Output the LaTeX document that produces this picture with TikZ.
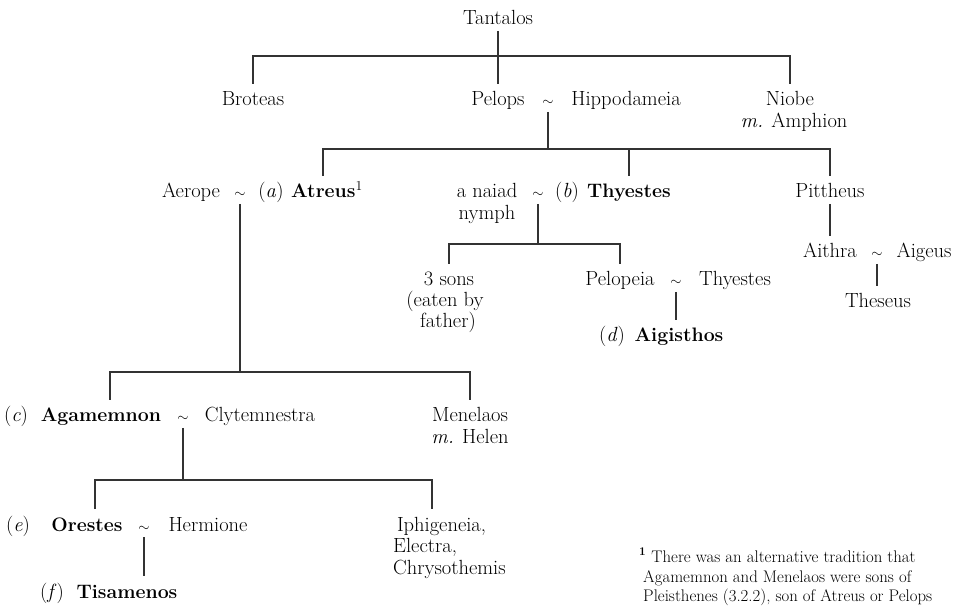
\documentclass[tikz,border=0pt]{standalone}
\usepackage{fontspec}
\newcommand{\couple}{{\fontsize{14.5}{14.5}\selectfont$\sim$}}
\begin{document}
\begin{tikzpicture}[x=1pt,y=-1pt,
  every node/.style={inner sep=0pt, text=black},
  person/.style={anchor=base, text height=18pt, text depth=2pt, outer sep=4pt,
    font=\fontsize{20.5}{24}\selectfont},
  heir/.style={person, font=\fontsize{19.5}{24}\selectfont\bfseries},
  extra/.style={anchor=base, font=\fontsize{20.5}{24}\selectfont},
  leftline/.style={anchor=base west, font=\fontsize{20.5}{24}\selectfont},
  note/.style={anchor=base west, font=\fontsize{16.8}{19}\selectfont},
  link/.style={line width=1.3pt, draw=black!80}]
\useasboundingbox (0,0) rectangle (956,609);

% generation 0 and 1
\node[person] (tant) at (498,25) {Tantalos};
\node[person] (brot) at (253,106) {Broteas};
\node[person] (pelops) at (498,106) {Pelops};
\node[person] (tA) at (548,106) {\couple};
\node[person] (hipp) at (626,106) {Hippodameia};
\node[person] (niobe) at (790,106) {Niobe};
\node[extra] (amph) at (794,128) {\textit{m.} Amphion};

% children of Pelops and Hippodameia
\node[person] (aerope) at (191,198) {Aerope};
\node[person] (tB) at (240,198) {\couple};
\node[person] (la) at (271,198) {(\textit{a})};
\node[heir] (atreus) at (327,198) {Atreus\textsuperscript{\mdseries 1}};
\node[person] (naiad) at (487,198) {a naiad};
\node[extra] (nymph) at (487,220) {nymph};
\node[person] (tC) at (538,198) {\couple};
\node[person] (lb) at (567,198) {(\textit{b})};
\node[heir] (thy) at (629,198) {Thyestes};
\node[person] (pitt) at (830,198) {Pittheus};

% Pittheus' line
\node[person] (aithra) at (830,258) {Aithra};
\node[person] (tD) at (877,258) {\couple};
\node[person] (aigeus) at (924,258) {Aigeus};
\node[person] (theseus) at (878,308) {Theseus};

% Thyestes' line
\node[person] (sons) at (449,286) {3 sons};
\node[extra] (eaten) at (445,307) {(eaten by};
\node[extra] (father) at (448,328) {father)};
\node[person] (pelopeia) at (620,286) {Pelopeia};
\node[person] (tE) at (676,286) {\couple};
\node[person] (thy2) at (735,286) {Thyestes};
\node[person] (ld) at (612,342) {(\textit{d})};
\node[heir] (aig) at (679,342) {Aigisthos};

% Atreus' line
\node[person] (lc) at (16,422) {(\textit{c})};
\node[heir] (agam) at (101,422) {Agamemnon};
\node[person] (tF) at (183,422) {\couple};
\node[person] (clyt) at (260,422) {Clytemnestra};
\node[person] (men) at (470,422) {Menelaos};
\node[extra] (helen) at (470,443) {\textit{m.} Helen};

\node[person] (le) at (18,531) {(\textit{e})};
\node[heir] (orestes) at (87,531) {Orestes};
\node[person] (tG) at (144,531) {\couple};
\node[person] (herm) at (208,531) {Hermione};
\node[leftline, text height=18pt, outer sep=4pt] (iph) at (393,531) {Iphigeneia,};
\node[leftline] (elec) at (393,552) {Electra,};
\node[leftline] (chrys) at (393,574) {Chrysothemis};

\node[person] (lf) at (52,598) {(\textit{f})};
\node[heir] (tis) at (127,598) {Tisamenos};

% footnote
\node[note] (fn1) at (639,562) {\textbf{\textsuperscript{1}} There was an alternative tradition that};
\node[note] (fn2) at (643,582) {Agamemnon and Menelaos were sons of};
\node[note] (fn3) at (643,601) {Pleisthenes (3.2.2), son of Atreus or Pelops};

% junctions of the family bars
\coordinate (j0) at (498,56);
\coordinate (j1) at (548,149);
\coordinate (j2) at (538,244);
\coordinate (j3) at (240,372);
\coordinate (j4) at (183,480);

% connectors
\draw[link] (tant) -- (pelops);
\draw[link] (brot) |- (j0) -| (niobe);
\draw[link] (tA) -- (j1);
\draw[link] ([xshift=-4pt]atreus.north) |- (j1) -| (pitt);
\draw[link] (thy) -- (thy |- j1);
\draw[link] (tC) -- (j2);
\draw[link] (sons) |- (j2) -| (pelopeia);
\draw[link] (pitt) -- (aithra);
\draw[link] (tD) -- (tD |- theseus.north);
\draw[link] (tE) -- (tE |- aig.north);
\draw[link] (tB) -- (j3);
\draw[link] ([xshift=9pt]agam.north) |- (j3) -| (men);
\draw[link] (tF) -- (j4);
\draw[link] ([xshift=8pt]orestes.north) |- (j4) -| ([xshift=39pt]iph.north west);
\draw[link] (tG) -- (tG |- tis.north);
\end{tikzpicture}
\end{document}
